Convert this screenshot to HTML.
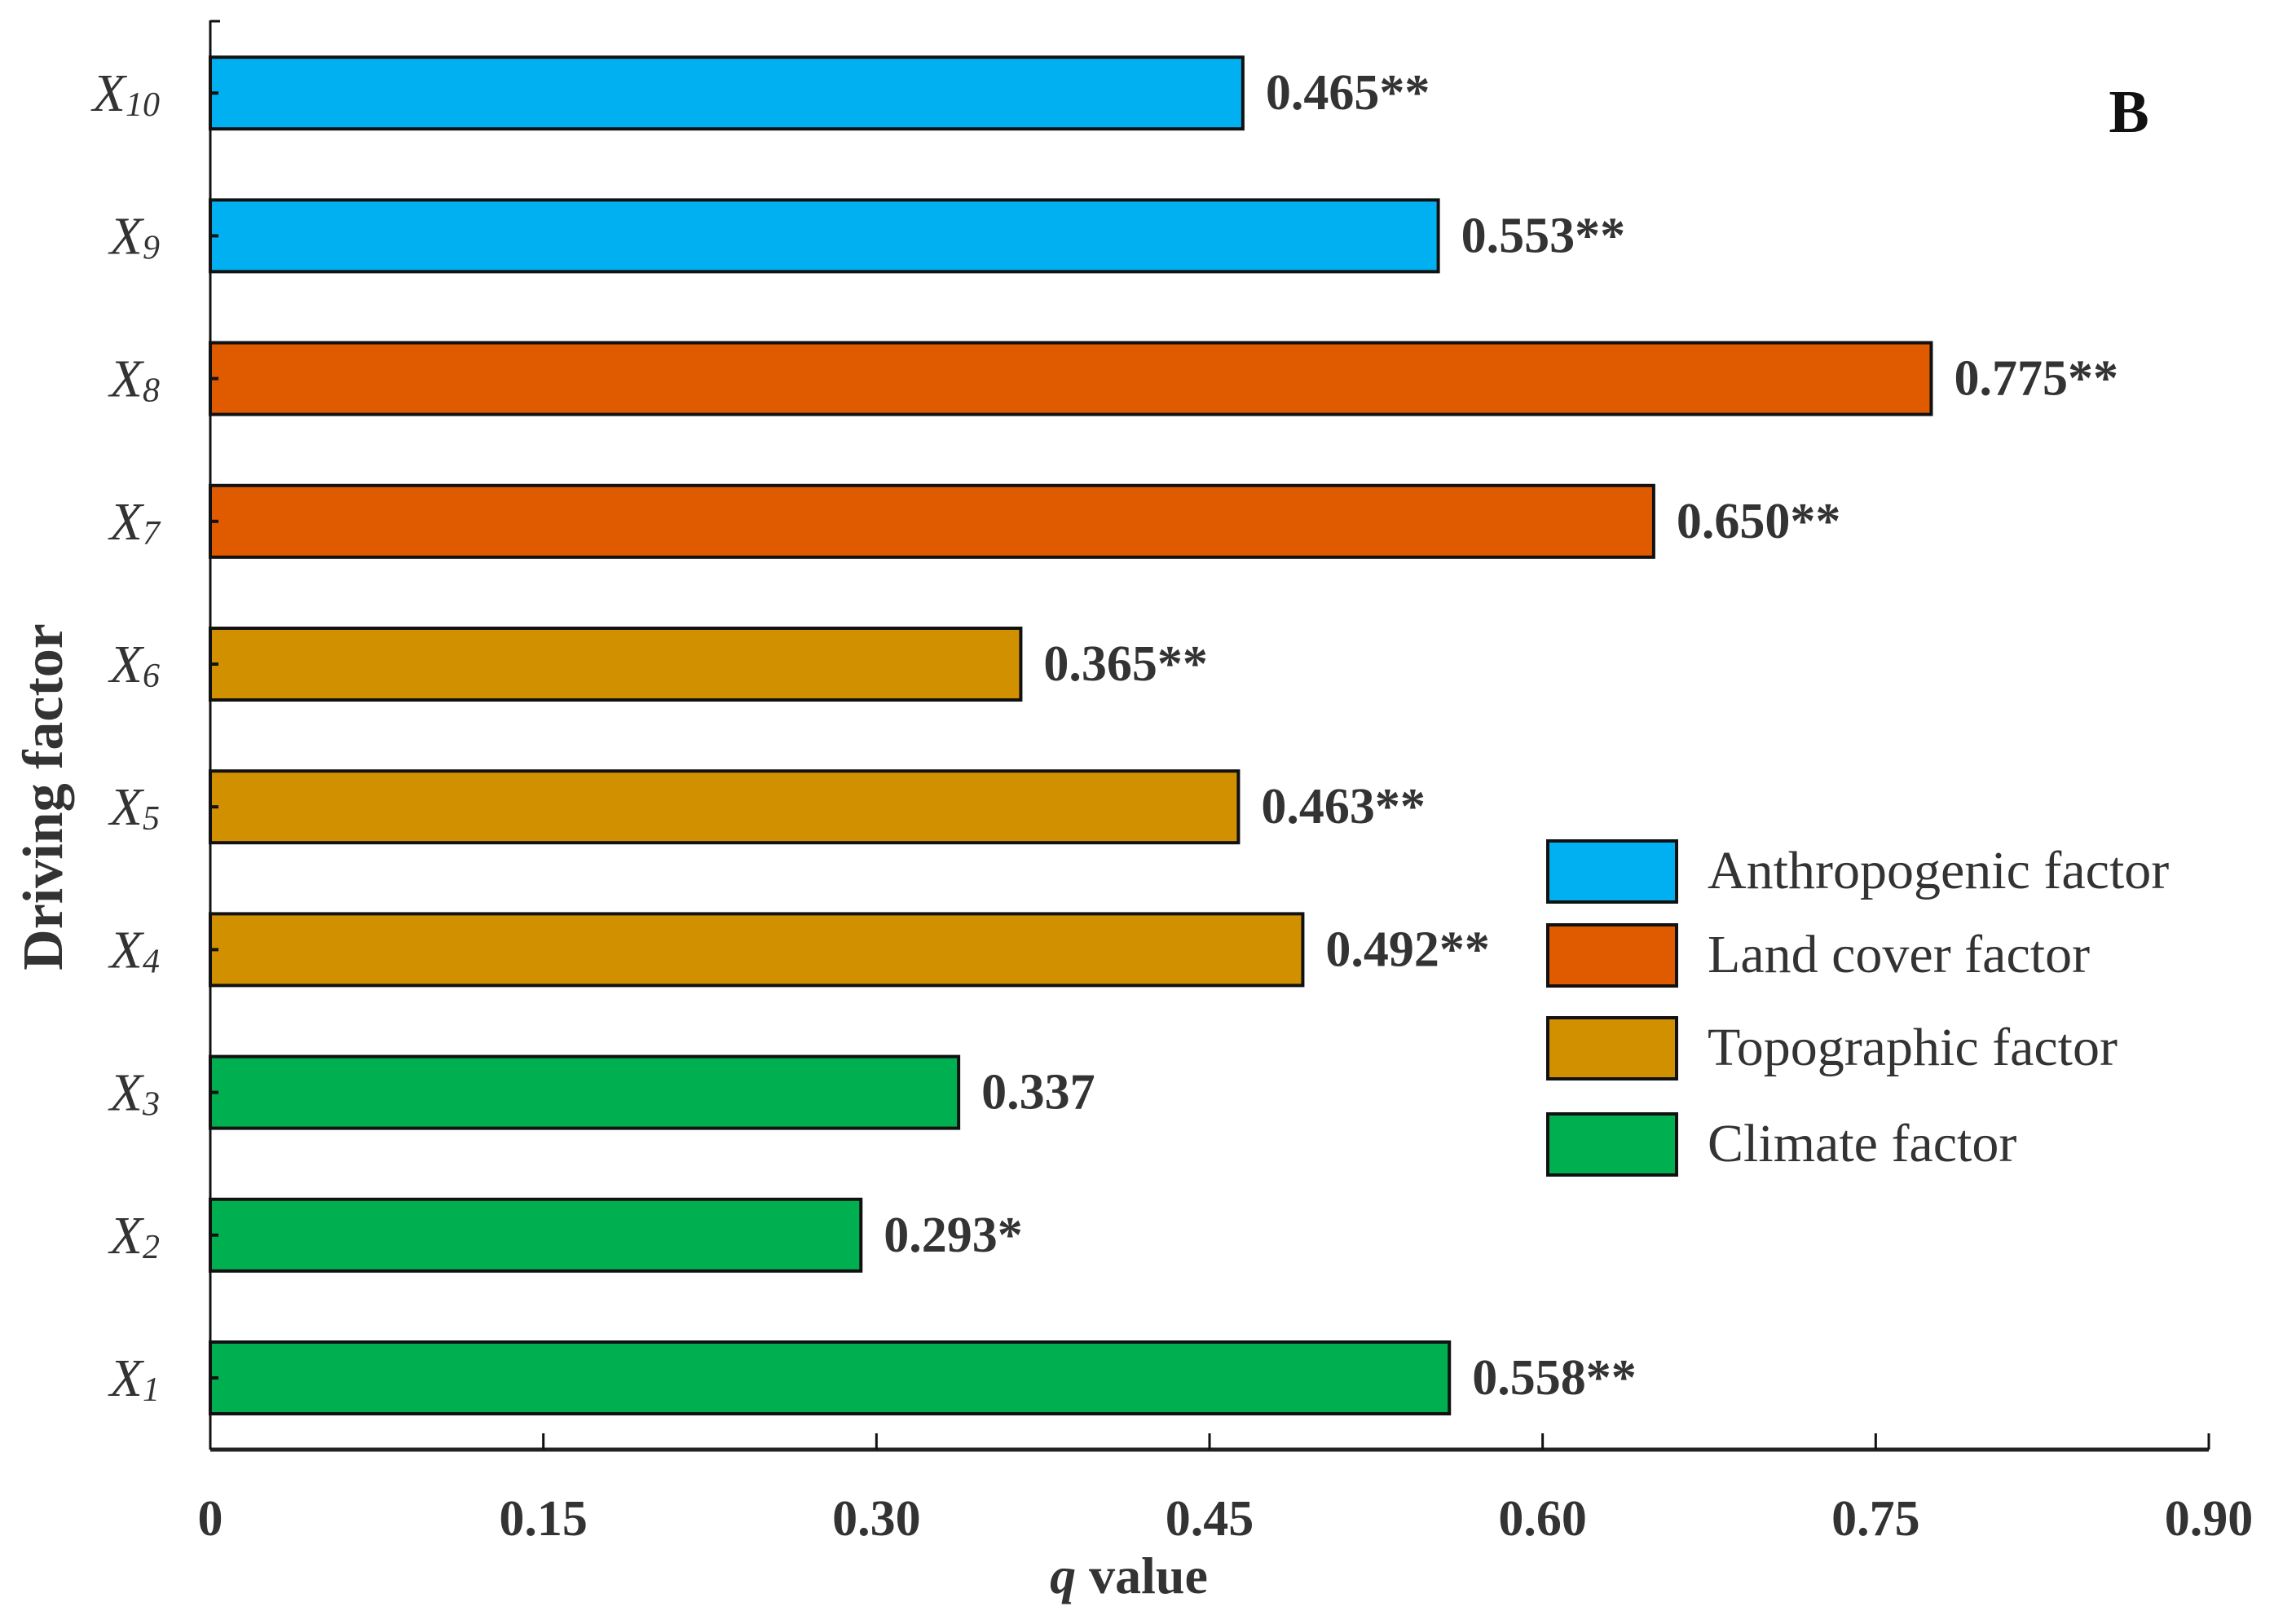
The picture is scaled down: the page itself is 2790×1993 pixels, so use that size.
<!DOCTYPE html>
<html><head><meta charset="utf-8"><style>
html,body{margin:0;padding:0;background:#fff;}
svg{display:block;font-family:"Liberation Serif",serif;}
</style></head><body>
<svg id="chart" width="2790" height="1993" viewBox="0 0 2790 1993">
<g id="plot"></g>
</svg>
<script>
const categories = ["X1","X2","X3","X4","X5","X6","X7","X8","X9","X10"];
const subs = ["1","2","3","4","5","6","7","8","9","10"];
const values = [0.558,0.293,0.337,0.492,0.463,0.365,0.650,0.775,0.553,0.465];
const valueLabels = ["0.558**","0.293*","0.337","0.492**","0.463**","0.365**","0.650**","0.775**","0.553**","0.465**"];
const groups = ["Climate factor","Climate factor","Climate factor","Topographic factor","Topographic factor","Topographic factor","Land cover factor","Land cover factor","Anthropogenic factor","Anthropogenic factor"];
const legendNames = ["Anthropogenic factor","Land cover factor","Topographic factor","Climate factor"];
const legendColors = ["#00B0F0","#E05A00","#D09000","#00B050"];
const xTicks = [0,0.15,0.30,0.45,0.60,0.75,0.90];
const xTickLabels = ["0","0.15","0.30","0.45","0.60","0.75","0.90"];

const NS="http://www.w3.org/2000/svg";
const g=document.getElementById('plot');
const X0=258,X1=2710,xMax=0.9,axisY=1779,axisTop=25;
const x=v=>X0+v/xMax*(X1-X0);
const yC=i=>1691-i*175.2;
const barH=88;
function mk(t,a,p){const e=document.createElementNS(NS,t);for(const k in a)e.setAttribute(k,a[k]);(p||g).appendChild(e);return e;}
const colorOf=n=>legendColors[legendNames.indexOf(n)];

categories.forEach((c,i)=>{
  const r=mk('rect',{x:X0,y:yC(i)-barH/2,width:x(values[i])-X0,height:barH,fill:colorOf(groups[i]),stroke:'#111','stroke-width':4});
  
  
  const t=mk('text',{x:x(values[i])+28,y:yC(i)+20,'font-size':62,'font-weight':'bold',fill:'#333'});
  t.textContent=valueLabels[i];
  
  
  const yl=mk('text',{x:196,y:yC(i)+22,'font-size':66,'font-style':'italic','text-anchor':'end',fill:'#333'});
  const a=document.createElementNS(NS,'tspan');a.textContent='X';yl.appendChild(a);
  const b=document.createElementNS(NS,'tspan');b.setAttribute('font-size','42');b.setAttribute('dy','6');b.textContent=subs[i];yl.appendChild(b);
  
  
  const tk=mk('line',{x1:X0,x2:X0+10,y1:yC(i),y2:yC(i),stroke:'#111','stroke-width':4});
  
  
});

const ya=mk('line',{x1:X0,x2:X0,y1:axisTop,y2:axisY,stroke:'#111','stroke-width':3});


const topTick=mk('line',{x1:X0,x2:X0+12,y1:axisTop+1,y2:axisTop+1,stroke:'#111','stroke-width':3});


const xa=mk('line',{x1:X0,x2:X1,y1:axisY,y2:axisY,stroke:'#222','stroke-width':5});


xTicks.forEach((v,i)=>{
  const tk=mk('line',{x1:x(v),x2:x(v),y1:axisY,y2:axisY-20,stroke:'#111','stroke-width':3});
  
  
  const t=mk('text',{x:x(v),y:1884,'font-size':62,'font-weight':'bold','text-anchor':'middle',fill:'#333'});
  t.textContent=xTickLabels[i];
  
  
});

const xt=mk('text',{x:1385,y:1955,'font-size':64,'font-weight':'bold','text-anchor':'middle',fill:'#333'});
const q=document.createElementNS(NS,'tspan');q.setAttribute('font-style','italic');q.textContent='q';xt.appendChild(q);
const qv=document.createElementNS(NS,'tspan');qv.textContent=' value';xt.appendChild(qv);



const yt=mk('text',{x:0,y:0,'font-size':70,'font-weight':'bold','text-anchor':'middle',fill:'#333',transform:'translate(76,978) rotate(-90)'});
yt.textContent='Driving factor';



const pl=mk('text',{x:2612,y:162,'font-size':74,'font-weight':'bold','text-anchor':'middle',fill:'#111'});
pl.textContent='B';



const legTops=[1032,1135,1249,1367];
legendNames.forEach((n,i)=>{
  const r=mk('rect',{x:1899,y:legTops[i],width:158,height:75,fill:legendColors[i],stroke:'#111','stroke-width':4});
  
  
  const t=mk('text',{x:2095,y:legTops[i]+58,'font-size':66,fill:'#333'});
  t.textContent=n;
  
  
});
</script>
</body></html>
